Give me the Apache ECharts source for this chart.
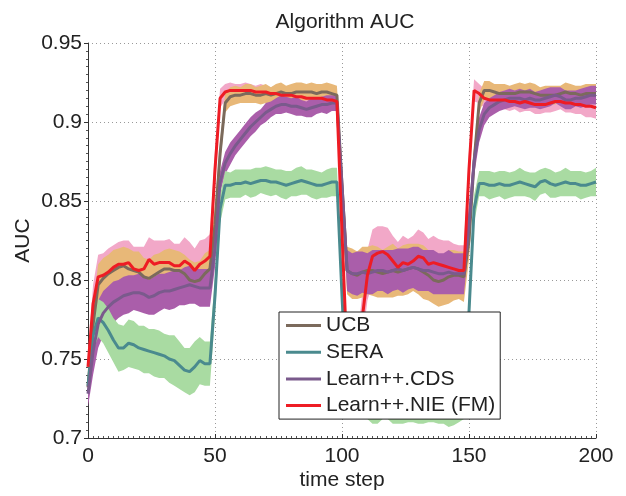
<!DOCTYPE html>
<html>
<head>
<meta charset="utf-8">
<script src="https://cdn.jsdelivr.net/npm/echarts@6/dist/echarts.min.js"></script>
<style>html,body{margin:0;padding:0;background:#fff;}#c{width:626px;height:496px;}</style>
</head>
<body>
<div id="c"></div>
<script>
const timeSteps = [0,2,4,6,8,10,12,14,16,18,20,22,24,26,28,30,32,34,36,38,40,42,44,46,48,
50,52,54,56,58,60,62,64,66,68,70,72,74,76,78,80,82,84,86,88,90,92,94,96,98,
100,102,104,106,108,110,112,114,116,118,120,122,124,126,128,130,132,134,136,138,140,142,144,146,148,
150,152,154,156,158,160,162,164,166,168,170,172,174,176,178,180,182,184,186,188,190,192,194,196,198,200];
const xTicks = [0,50,100,150,200];
const yTicks = [0.7,0.75,0.8,0.85,0.9,0.95];
const seriesNames = ['UCB','SERA','Learn++.CDS','Learn++.NIE (FM)'];

const ucbMean = [0.732,0.772,0.797,0.801,0.804,0.806,0.808,0.809,0.807,0.806,0.805,0.802,0.801,0.803,0.805,0.807,0.807,0.806,0.806,0.804,0.800,0.799,0.800,0.804,0.807,
0.835,0.880,0.912,0.916,0.917,0.917,0.918,0.918,0.917,0.917,0.918,0.917,0.918,0.919,0.918,0.918,0.919,0.919,0.919,0.919,0.918,0.919,0.919,0.918,0.917,
0.860,0.806,0.804,0.803,0.805,0.806,0.806,0.805,0.804,0.805,0.806,0.805,0.806,0.807,0.808,0.807,0.805,0.803,0.800,0.799,0.800,0.802,0.803,0.803,0.802,
0.825,0.875,0.912,0.920,0.920,0.919,0.918,0.918,0.918,0.918,0.919,0.919,0.919,0.918,0.917,0.917,0.917,0.917,0.918,0.919,0.918,0.918,0.917,0.918,0.918,0.918];
const ucbSpread = [0.010,0.012,0.013,0.013,0.012,0.013,0.012,0.012,0.013,0.012,0.013,0.012,0.012,0.013,0.012,0.012,0.013,0.013,0.012,0.012,0.013,0.012,0.012,0.013,0.012,
0.012,0.008,0.006,0.006,0.006,0.005,0.006,0.006,0.005,0.006,0.006,0.005,0.006,0.006,0.005,0.006,0.006,0.006,0.005,0.006,0.006,0.005,0.006,0.006,0.006,
0.012,0.015,0.016,0.015,0.016,0.015,0.016,0.016,0.015,0.016,0.017,0.015,0.016,0.016,0.015,0.016,0.017,0.016,0.015,0.016,0.016,0.017,0.016,0.015,0.016,
0.012,0.008,0.006,0.006,0.006,0.005,0.006,0.006,0.005,0.006,0.006,0.005,0.006,0.006,0.005,0.006,0.006,0.006,0.005,0.006,0.006,0.005,0.006,0.006,0.006,0.006];

const seraMean = [0.733,0.765,0.776,0.773,0.768,0.762,0.757,0.757,0.760,0.759,0.757,0.756,0.755,0.754,0.753,0.752,0.750,0.749,0.746,0.743,0.742,0.745,0.749,0.747,0.747,
0.790,0.845,0.860,0.860,0.861,0.861,0.862,0.861,0.862,0.863,0.863,0.862,0.862,0.861,0.860,0.861,0.862,0.863,0.862,0.861,0.860,0.860,0.861,0.862,0.862,
0.790,0.726,0.723,0.722,0.721,0.722,0.720,0.719,0.721,0.722,0.720,0.719,0.718,0.720,0.721,0.719,0.718,0.720,0.721,0.719,0.718,0.717,0.719,0.720,0.721,
0.780,0.845,0.861,0.861,0.860,0.860,0.861,0.860,0.860,0.861,0.862,0.861,0.860,0.859,0.862,0.863,0.861,0.860,0.861,0.862,0.861,0.861,0.860,0.860,0.861,0.862];
const seraSpread = [0.006,0.010,0.012,0.013,0.014,0.014,0.015,0.014,0.015,0.015,0.014,0.015,0.014,0.015,0.015,0.014,0.015,0.016,0.015,0.014,0.015,0.016,0.015,0.014,0.014,
0.012,0.009,0.009,0.008,0.009,0.009,0.008,0.009,0.009,0.008,0.009,0.009,0.008,0.009,0.009,0.008,0.009,0.009,0.008,0.009,0.009,0.008,0.009,0.009,0.009,
0.012,0.010,0.010,0.010,0.009,0.010,0.011,0.010,0.009,0.010,0.011,0.010,0.009,0.010,0.011,0.010,0.009,0.010,0.011,0.010,0.009,0.010,0.011,0.010,0.009,
0.012,0.009,0.008,0.008,0.009,0.008,0.008,0.009,0.008,0.008,0.009,0.008,0.008,0.009,0.008,0.008,0.009,0.008,0.008,0.009,0.008,0.008,0.009,0.008,0.008,0.009];

const cdsMean = [0.728,0.755,0.772,0.779,0.783,0.786,0.788,0.790,0.791,0.792,0.792,0.791,0.789,0.790,0.792,0.793,0.793,0.794,0.795,0.796,0.797,0.796,0.795,0.795,0.795,
0.820,0.862,0.874,0.880,0.885,0.889,0.893,0.897,0.900,0.903,0.906,0.908,0.910,0.911,0.911,0.910,0.910,0.909,0.908,0.909,0.910,0.911,0.911,0.912,0.912,
0.860,0.806,0.804,0.804,0.805,0.804,0.805,0.806,0.806,0.805,0.806,0.807,0.806,0.807,0.808,0.807,0.806,0.806,0.805,0.804,0.804,0.805,0.804,0.804,0.804,
0.835,0.875,0.895,0.905,0.909,0.911,0.913,0.914,0.915,0.915,0.915,0.914,0.915,0.914,0.914,0.915,0.916,0.917,0.916,0.914,0.914,0.915,0.915,0.916,0.917,0.917];
const cdsSpread = [0.008,0.015,0.015,0.014,0.013,0.013,0.012,0.012,0.012,0.011,0.012,0.012,0.011,0.012,0.012,0.011,0.012,0.012,0.011,0.012,0.012,0.011,0.012,0.012,0.012,
0.012,0.007,0.007,0.007,0.006,0.006,0.006,0.006,0.006,0.005,0.006,0.005,0.005,0.006,0.005,0.005,0.006,0.005,0.005,0.006,0.005,0.005,0.006,0.005,0.005,
0.012,0.013,0.013,0.014,0.013,0.013,0.014,0.013,0.013,0.014,0.013,0.013,0.014,0.013,0.013,0.014,0.013,0.013,0.014,0.013,0.013,0.014,0.013,0.013,0.013,
0.012,0.009,0.008,0.007,0.006,0.006,0.006,0.006,0.006,0.005,0.006,0.006,0.006,0.005,0.006,0.006,0.006,0.005,0.006,0.006,0.006,0.005,0.006,0.006,0.006,0.006];

const nieMean = [0.745,0.785,0.802,0.803,0.805,0.808,0.810,0.810,0.811,0.807,0.806,0.807,0.813,0.810,0.811,0.811,0.811,0.809,0.809,0.812,0.810,0.806,0.810,0.812,0.815,
0.870,0.915,0.919,0.920,0.920,0.920,0.920,0.920,0.919,0.919,0.919,0.918,0.918,0.917,0.917,0.917,0.916,0.916,0.915,0.915,0.915,0.915,0.914,0.914,0.913,
0.830,0.750,0.735,0.745,0.776,0.803,0.815,0.817,0.818,0.816,0.812,0.808,0.811,0.810,0.812,0.815,0.814,0.810,0.811,0.810,0.809,0.808,0.807,0.806,0.806,
0.870,0.920,0.918,0.915,0.914,0.914,0.914,0.914,0.913,0.913,0.912,0.913,0.912,0.911,0.911,0.911,0.912,0.913,0.913,0.912,0.912,0.911,0.911,0.910,0.910,0.909];
const nieSpread = [0.008,0.012,0.014,0.014,0.015,0.014,0.014,0.015,0.014,0.014,0.015,0.014,0.014,0.015,0.014,0.014,0.015,0.014,0.014,0.015,0.014,0.014,0.015,0.014,0.014,
0.012,0.006,0.005,0.005,0.004,0.004,0.005,0.004,0.004,0.005,0.004,0.004,0.005,0.004,0.004,0.005,0.004,0.004,0.005,0.004,0.004,0.005,0.004,0.004,0.005,
0.012,0.015,0.015,0.016,0.016,0.016,0.017,0.017,0.016,0.017,0.016,0.016,0.017,0.016,0.016,0.017,0.016,0.016,0.017,0.016,0.016,0.017,0.016,0.016,0.016,
0.012,0.007,0.006,0.006,0.005,0.006,0.005,0.006,0.006,0.005,0.006,0.006,0.005,0.006,0.006,0.005,0.006,0.006,0.005,0.006,0.006,0.006,0.006,0.007,0.007,0.007];

const lineColors = ['#7b6a5c','#4a8a8e','#7a5a8c','#ee1c24'];
const bandColors = ['#e8b878','#a9dba2','#aa5eaa','#f2a8c8'];

const means = [ucbMean, seraMean, cdsMean, nieMean];
const spreads = [ucbSpread, seraSpread, cdsSpread, nieSpread];

const FONT = 'Liberation Sans, Arial, Helvetica, sans-serif';
const series = [];
// band drawing order: NIE (pink), UCB (orange), CDS (purple), SERA (green)
const bandOrder = [3, 0, 2, 1];
bandOrder.forEach(function (i, order) {
  const rows = timeSteps.map(function (t, k) {
    return [t, means[i][k] - spreads[i][k], means[i][k] + spreads[i][k]];
  });
  series.push({
    name: 'band_' + i, type: 'custom', silent: true, clip: true,
    z: 1, zlevel: 0,
    data: rows,
    encode: { x: 0, y: [1, 2] },
    renderItem: function (params, api) {
      if (params.dataIndex !== 0) return null;
      const pts = [];
      for (let k = 0; k < rows.length; k++) pts.push(api.coord([rows[k][0], rows[k][2]]));
      for (let k = rows.length - 1; k >= 0; k--) pts.push(api.coord([rows[k][0], rows[k][1]]));
      return {
        type: 'polygon',
        z2: order,
        shape: { points: pts },
        style: { fill: bandColors[i], stroke: null }
      };
    }
  });
});
[0, 1, 2, 3].forEach(function (i) {
  series.push({
    name: seriesNames[i], type: 'line', z: 3,
    data: timeSteps.map(function (t, k) { return [t, means[i][k]]; }),
    symbol: 'none',
    lineStyle: { color: lineColors[i], width: 3 },
    itemStyle: { color: lineColors[i] }
  });
});

const chart = echarts.init(document.getElementById('c'), null, { renderer: 'canvas' });
chart.setOption({
  animation: false,
  backgroundColor: '#ffffff',
  title: {
    text: 'Algorithm AUC', left: 340, top: 7, textAlign: 'center',
    textStyle: { fontFamily: FONT, fontSize: 21, fontWeight: 'normal', color: '#222' }
  },
  grid: { left: 88, right: 30, top: 43, bottom: 54, containLabel: false },
  legend: {
    data: seriesNames.map(function (n) { return { name: n, icon: 'rect' }; }),
    orient: 'vertical', left: 279, top: 312,
    backgroundColor: '#ffffff', borderColor: '#222', borderWidth: 1,
    padding: [3, 5, 3, 7],
    itemWidth: 35, itemHeight: 3, itemGap: 5.7,
    textStyle: { fontFamily: FONT, fontSize: 21, color: '#222', lineHeight: 21 }
  },
  xAxis: {
    type: 'value', min: 0, max: 200, interval: 50,
    name: 'time step', nameLocation: 'middle', nameGap: 32, nameMoveOverlap: false,
    nameTextStyle: { fontFamily: FONT, fontSize: 21, color: '#222' },
    axisLine: { show: true, onZero: false, lineStyle: { color: '#333', width: 1 } },
    axisTick: { show: true, inside: true, length: 4, lineStyle: { color: '#333' } },
    minorTick: { show: true, splitNumber: 25, length: 2, lineStyle: { color: '#555' } },
    splitLine: { show: true, lineStyle: { color: '#999', type: [1, 3], width: 1 } },
    axisLabel: { fontFamily: FONT, fontSize: 21, color: '#222', margin: 8,
      formatter: function (v) { return xTicks.indexOf(v) >= 0 ? String(v) : ''; } }
  },
  yAxis: {
    type: 'value', min: 0.7, max: 0.95, interval: 0.05,
    name: 'AUC', nameLocation: 'middle', nameGap: 54, nameRotate: 90, nameMoveOverlap: false,
    nameTextStyle: { fontFamily: FONT, fontSize: 21, color: '#222' },
    axisLine: { show: true, onZero: false, lineStyle: { color: '#333', width: 1 } },
    axisTick: { show: true, inside: false, length: 4, lineStyle: { color: '#333' } },
    minorTick: { show: true, splitNumber: 10, length: 2, lineStyle: { color: '#555' } },
    splitLine: { show: true, lineStyle: { color: '#999', type: [1, 3], width: 1 } },
    axisLabel: { fontFamily: FONT, fontSize: 21, color: '#222', margin: 6,
      formatter: function (v) {
        const r = parseFloat(Number(v).toFixed(2));
        return yTicks.indexOf(r) >= 0 ? String(r) : '';
      } }
  },
  series: series
});
</script>
</body>
</html>
